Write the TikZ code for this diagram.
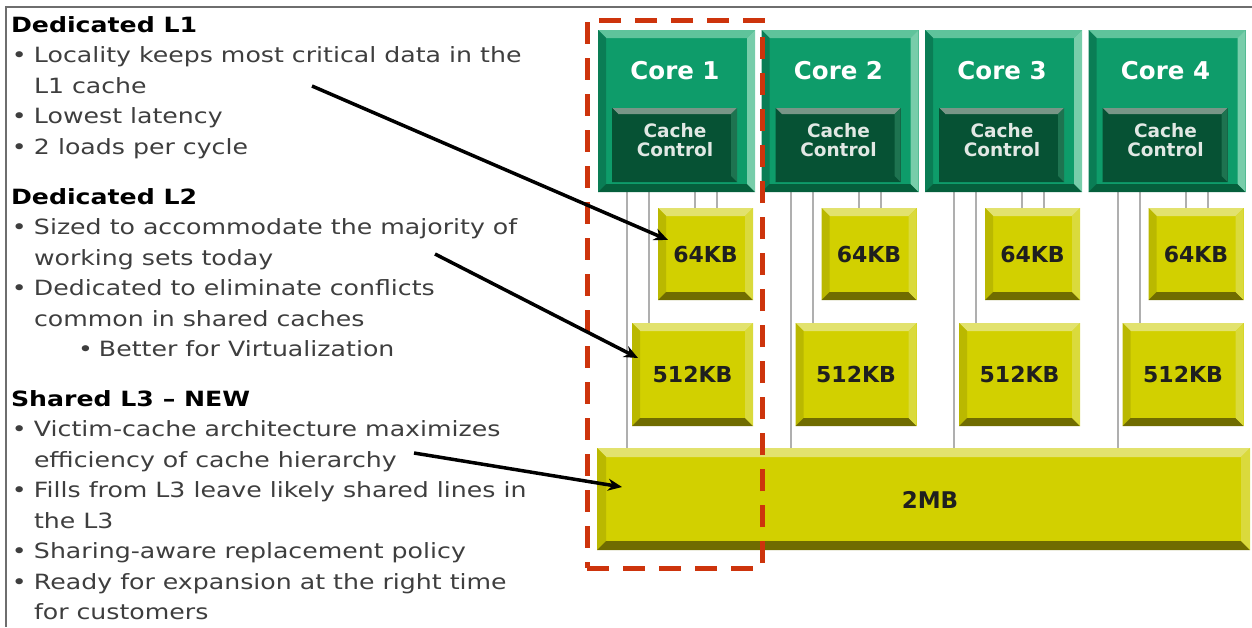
\documentclass[tikz,border=0pt]{standalone}
\usepackage{fontspec}
\setmainfont{DejaVu Sans}
\newfontfamily\notefont[FakeStretch=1.2]{DejaVu Sans}
\newfontfamily\boxfont{DejaVu Sans}
\usetikzlibrary{arrows.meta}

% core (green)
\definecolor{coreBody}{RGB}{14,156,106}
\definecolor{coreTop}{RGB}{95,195,155}
\definecolor{coreLeft}{RGB}{10,125,85}
\definecolor{coreRight}{RGB}{120,205,170}
\definecolor{coreBot}{RGB}{5,95,60}
% cache control (dark green)
\definecolor{ccBody}{RGB}{6,82,52}
\definecolor{ccTop}{RGB}{120,150,135}
\definecolor{ccRight}{RGB}{30,115,80}
% cache blocks (yellow)
\definecolor{yBody}{RGB}{210,208,0}
\definecolor{yTop}{RGB}{226,226,110}
\definecolor{yLeft}{RGB}{186,184,0}
\definecolor{yBot}{RGB}{112,108,0}
\definecolor{yRight}{RGB}{218,218,60}
% misc
\definecolor{noteGray}{RGB}{62,62,62}
\definecolor{wireGray}{RGB}{175,175,175}
\definecolor{frameGray}{RGB}{110,110,110}
\definecolor{focusRed}{RGB}{205,52,12}
\definecolor{ccText}{RGB}{225,232,228}

\newcommand\bevw{7pt}
\newcommand\bul{\makebox[22pt][l]{•}}

\tikzset{
  bevelwidth/.code={\def\bevw{#1}},
  bevel/.style n args={5}{
    fill=#1, inner sep=0pt, outer sep=0pt, anchor=north west,
    path picture={
      \path (path picture bounding box.north west) coordinate (bnw)
            (path picture bounding box.north east) coordinate (bne)
            (path picture bounding box.south west) coordinate (bsw)
            (path picture bounding box.south east) coordinate (bse);
      \fill[#2] (bnw) -- (bne) -- ([shift={(-\bevw,-\bevw)}]bne) -- ([shift={(\bevw,-\bevw)}]bnw) -- cycle;
      \fill[#3] (bnw) -- ([shift={(\bevw,-\bevw)}]bnw) -- ([shift={(\bevw,\bevw)}]bsw) -- (bsw) -- cycle;
      \fill[#4] (bsw) -- ([shift={(\bevw,\bevw)}]bsw) -- ([shift={(-\bevw,\bevw)}]bse) -- (bse) -- cycle;
      \fill[#5] (bne) -- (bse) -- ([shift={(-\bevw,\bevw)}]bse) -- ([shift={(-\bevw,-\bevw)}]bne) -- cycle;
    }},
  corebox/.style={bevel={coreBody}{coreTop}{coreLeft}{coreBot}{coreRight}, bevelwidth=8pt,
    minimum width=157pt, minimum height=162pt},
  ccbox/.style={bevel={ccBody}{ccTop}{ccBody}{ccBody}{ccRight}, bevelwidth=6pt,
    minimum width=125pt, minimum height=74pt},
  cachebox/.style={bevel={yBody}{yTop}{yLeft}{yBot}{yRight}, bevelwidth=8pt,
    font=\boxfont\bfseries\fontsize{22}{24}\selectfont, text=black!88},
  corelabel/.style={font=\boxfont\bfseries\fontsize{24.5}{26}\selectfont, text=white, inner sep=0pt},
  cclabel/.style={font=\boxfont\bfseries\fontsize{18.5}{20}\selectfont, text=ccText,
    align=center, inner sep=0pt},
  note/.style={font=\notefont\fontsize{21}{24}\selectfont, text=noteGray,
    inner sep=0pt, outer sep=0pt, anchor=base west},
  head/.style={note, text=black, font=\notefont\bfseries\fontsize{21}{24}\selectfont},
  wire/.style={draw=wireGray, line width=2pt},
  frame/.style={draw=frameGray, line width=1.5pt},
  focus/.style={draw=focusRed, line width=5pt, dash pattern=on 22pt off 14pt,
    inner sep=0pt, outer sep=0pt, anchor=north west},
  pointer/.style={draw=black, line width=3.5pt, -{Stealth[length=14pt,width=12pt]}}
}

\begin{document}
\begin{tikzpicture}[x=1pt,y=-1pt]
\useasboundingbox (0,0) rectangle (1252,627);

% page frame
\coordinate (frameTL) at (6,7);
\coordinate (frameTR) at (1252,7);
\coordinate (frameBL) at (6,627);
\draw[frame] (frameTR) -- (frameTL) -- (frameBL);

% shared L3
\node[cachebox, bevelwidth=9pt, minimum width=653pt, minimum height=102pt] (l3) at (597,448) {};
\node[font=\boxfont\bfseries\fontsize{23}{24}\selectfont, text=black!88] (l3label) at (930,500) {2MB};

% four cores with their private caches
\foreach \i in {1,...,4}{
  \pgfmathsetmacro\cx{598+(\i-1)*163.5}
  % wires from cache control to the caches
  \coordinate (wa\i) at (\cx+29,150);
  \coordinate (wb\i) at (\cx+51,150);
  \coordinate (wc\i) at (\cx+97,150);
  \coordinate (wd\i) at (\cx+119,150);
  \node[cachebox, minimum width=95pt, minimum height=92pt] (la\i) at (\cx+60,208) {64KB};
  \node[cachebox, minimum width=121pt, minimum height=103pt] (lb\i) at (\cx+34,323) {512KB};
  \draw[wire] (wa\i) -- (wa\i |- l3.north);
  \draw[wire] (wb\i) -- (wb\i |- lb\i.north);
  \draw[wire] (wc\i) -- (wc\i |- la\i.north);
  \draw[wire] (wd\i) -- (wd\i |- la\i.north);
  \node[corebox] (core\i) at (\cx,30) {};
  \node[ccbox] (cc\i) at (\cx+14,108) {};
  \node[corelabel] (coretext\i) at (\cx+77,71) {Core \i};
  \node[cclabel] (cctext\i) at (\cx+77,140) {Cache\\[-1pt]Control};
}

% highlighted column
\node[focus, minimum width=175pt, minimum height=548pt] (focusbox) at (587,20) {};

% description text
\node[head] (h1) at (11,32) {Dedicated L1};
\node[note] (t11) at (12,62.5) {\bul Locality keeps most critical data in the};
\node[note] (t12) at (34,93) {L1 cache};
\node[note] (t13) at (12,123.5) {\bul Lowest latency};
\node[note] (t14) at (12,154) {\bul 2 loads per cycle};

\node[head] (h2) at (11,204) {Dedicated L2};
\node[note] (t21) at (12,234.5) {\bul Sized to accommodate the majority of};
\node[note] (t22) at (34,265) {working sets today};
\node[note] (t23) at (12,295.5) {\bul Dedicated to eliminate conflicts};
\node[note] (t24) at (34,326) {common in shared caches};
\node[note] (t25) at (78,356.5) {\makebox[21pt][l]{•}Better for Virtualization};

\node[head] (h3) at (11,406) {Shared L3 – NEW};
\node[note] (t31) at (12,436.5) {\bul Victim-cache architecture maximizes};
\node[note] (t32) at (34,467) {efficiency of cache hierarchy};
\node[note] (t33) at (12,497.5) {\bul Fills from L3 leave likely shared lines in};
\node[note] (t34) at (34,528) {the L3};
\node[note] (t35) at (12,558.5) {\bul Sharing-aware replacement policy};
\node[note] (t36) at (12,589) {\bul Ready for expansion at the right time};
\node[note] (t37) at (34,619.5) {for customers};

% pointers from the text to the caches
\coordinate (p1) at (312,86);
\coordinate (q1) at (668,240);
\coordinate (p2) at (435,254);
\coordinate (q2) at (638,358);
\coordinate (p3) at (414,453);
\coordinate (q3) at (622,487);
\draw[pointer] (p1) -- (q1);
\draw[pointer] (p2) -- (q2);
\draw[pointer] (p3) -- (q3);
\end{tikzpicture}
\end{document}
